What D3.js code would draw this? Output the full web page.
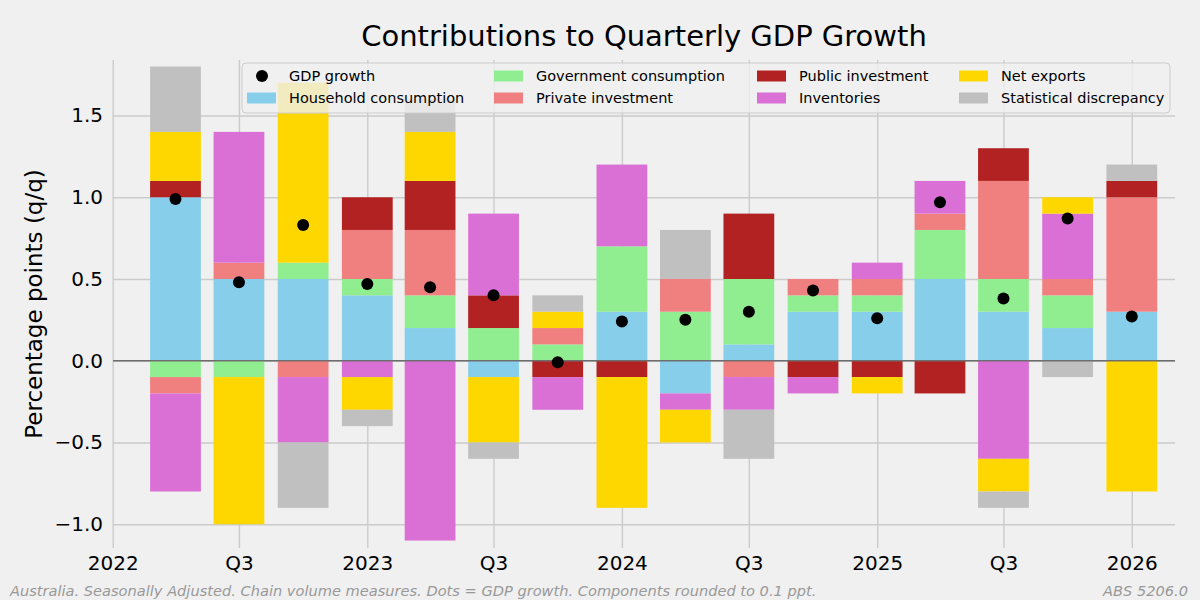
<!DOCTYPE html>
<html lang="en">
  <head>
    <meta charset="utf-8" />
    <title>Contributions to Quarterly GDP Growth</title>
    <script src="https://d3js.org/d3.v7.min.js"></script>
    <style>
      body { margin: 0; background: #f0f0f0; }
      svg { display: block; font-family: "DejaVu Sans", sans-serif; }
    </style>
  </head>
  <body>
    <svg width="1200" height="600"></svg>
  </body>
  <script>
    // Quarters (plotted at the start of each quarter)
    const quarters = ['2022-04-01', '2022-07-01', '2022-10-01', '2023-01-01',
                      '2023-04-01', '2023-07-01', '2023-10-01', '2024-01-01',
                      '2024-04-01', '2024-07-01', '2024-10-01', '2025-01-01',
                      '2025-04-01', '2025-07-01', '2025-10-01', '2026-01-01'];

    // Contributions, percentage points
    const household   = [1.0, 0.5, 0.5, 0.4, 0.2, -0.1, 0.0, 0.3, -0.2, 0.1, 0.3, 0.3, 0.5, 0.3, 0.2, 0.3];
    const government  = [-0.1, -0.1, 0.1, 0.1, 0.2, 0.2, 0.1, 0.4, 0.3, 0.4, 0.1, 0.1, 0.3, 0.2, 0.2, 0.0];
    const privateInv  = [-0.1, 0.1, -0.1, 0.3, 0.4, 0.0, 0.1, 0.0, 0.2, -0.1, 0.1, 0.1, 0.1, 0.6, 0.1, 0.7];
    const publicInv   = [0.1, 0.0, 0.0, 0.2, 0.3, 0.2, -0.1, -0.1, 0.0, 0.4, -0.1, -0.1, -0.2, 0.2, 0.0, 0.1];
    const inventories = [-0.6, 0.8, -0.4, -0.1, -1.1, 0.5, -0.2, 0.5, -0.1, -0.2, -0.1, 0.1, 0.2, -0.6, 0.4, 0.0];
    const netExports  = [0.3, -0.9, 1.1, -0.2, 0.3, -0.4, 0.1, -0.8, -0.2, 0.0, 0.0, -0.1, 0.0, -0.2, 0.1, -0.8];
    const statDisc    = [0.4, 0.0, -0.4, -0.1, 0.2, -0.1, 0.1, 0.0, 0.3, -0.3, 0.0, 0.0, 0.0, -0.1, -0.1, 0.1];
    const gdpGrowth   = [0.99, 0.48, 0.83, 0.47, 0.45, 0.40, -0.01, 0.24, 0.25, 0.30, 0.43, 0.26, 0.97, 0.38, 0.87, 0.27];

    const seriesNames = ['Household consumption', 'Government consumption', 'Private investment',
                         'Public investment', 'Inventories', 'Net exports', 'Statistical discrepancy'];
    const seriesValues = [household, government, privateInv, publicInv, inventories, netExports, statDisc];
    const seriesColors = ['#87ceeb', '#90ee90', '#f08080', '#b22222', '#da70d6', '#ffd700', '#c0c0c0'];

    const yTicks = [-1.0, -0.5, 0.0, 0.5, 1.0, 1.5];

    const parse = d3.utcParse('%Y-%m-%d');
    const dates = quarters.map(parse);

    // Table for d3.stack
    const table = dates.map((d, i) => {
      const row = { date: d };
      seriesNames.forEach((name, k) => { row[name] = seriesValues[k][i]; });
      return row;
    });

    const svg = d3.select('svg');
    svg.append('rect').attr('width', 1200).attr('height', 600).attr('fill', '#f0f0f0');

    // Plot area
    const plotLeft = 113, plotRight = 1175, plotTop = 60, plotBottom = 548;

    const xScale = d3.scaleUtc()
          .domain([parse('2022-01-01'), parse('2026-01-01')])
          .range([112.7, 1131.8]);
    const yScale = d3.scaleLinear()
          .domain([-1.1456, 1.8397])
          .range([plotBottom, plotTop]);

    const xTicks = d3.utcMonth.every(6).range(parse('2022-01-01'), parse('2026-01-02'));

    // Horizontal grid + y labels
    const yAxis = svg.append('g')
          .attr('transform', `translate(${plotLeft}, 0)`)
          .call(d3.axisLeft(yScale)
                .tickValues(yTicks)
                .tickSize(-(plotRight - plotLeft))
                .tickPadding(10)
                .tickFormat(d3.format('.1f')));
    yAxis.select('.domain').remove();
    yAxis.selectAll('line').attr('stroke', '#cbcbcb').attr('stroke-width', 1.4);
    yAxis.selectAll('text').attr('font-size', 20).attr('fill', '#000')
         .attr('font-family', 'DejaVu Sans');

    // Vertical grid + x labels
    const xAxis = svg.append('g')
          .attr('transform', `translate(0, ${plotBottom})`)
          .call(d3.axisBottom(xScale)
                .tickValues(xTicks)
                .tickSize(-(plotBottom - plotTop))
                .tickPadding(8)
                .tickFormat(d => d.getUTCMonth() === 0 ? d.getUTCFullYear() : 'Q3'));
    xAxis.select('.domain').remove();
    xAxis.selectAll('line').attr('stroke', '#cbcbcb').attr('stroke-width', 1.4);
    xAxis.selectAll('text').attr('font-size', 20).attr('fill', '#000')
         .attr('font-family', 'DejaVu Sans');

    // Stacked bars
    const stack = d3.stack()
          .keys(seriesNames)
          .offset(d3.stackOffsetDiverging);
    const layers = stack(table);

    const barWidth = 0.8 * (xScale(dates[1]) - xScale(dates[0]));

    svg.append('g')
      .selectAll('g')
      .data(layers)
      .join('g')
        .attr('fill', (d, i) => seriesColors[i])
      .selectAll('rect')
      .data(d => d)
      .join('rect')
        .attr('x', d => xScale(d.data.date) - barWidth / 2)
        .attr('width', barWidth)
        .attr('y', d => yScale(Math.max(d[0], d[1])))
        .attr('height', d => Math.abs(yScale(d[0]) - yScale(d[1])));

    // Zero line
    svg.append('line')
      .attr('x1', plotLeft).attr('x2', plotRight)
      .attr('y1', yScale(0)).attr('y2', yScale(0))
      .attr('stroke', '#6e6e6e').attr('stroke-width', 1.3);

    // GDP growth dots
    svg.append('g')
      .selectAll('circle')
      .data(gdpGrowth)
      .join('circle')
        .attr('cx', (d, i) => xScale(dates[i]))
        .attr('cy', d => yScale(d))
        .attr('r', 6)
        .attr('fill', '#000');

    // Legend
    const legend = svg.append('g');
    legend.append('rect')
      .attr('x', 242).attr('y', 63)
      .attr('width', 928).attr('height', 50)
      .attr('rx', 4)
      .attr('fill', '#f0f0f0').attr('fill-opacity', 0.8)
      .attr('stroke', '#cccccc').attr('stroke-width', 1);

    const legendItems = [{ name: 'GDP growth', dot: true }]
          .concat(seriesNames.map((name, i) => ({ name: name, color: seriesColors[i] })));
    const colX = [247, 494, 757, 959];
    const rowY = [76, 98];

    legendItems.forEach((item, i) => {
      const cx = colX[Math.floor(i / 2)];
      const cy = rowY[i % 2];
      if (item.dot) {
        legend.append('circle').attr('cx', cx + 15).attr('cy', cy).attr('r', 6).attr('fill', '#000');
      } else {
        legend.append('rect').attr('x', cx).attr('y', cy - 5.5)
          .attr('width', 29).attr('height', 11).attr('fill', item.color);
      }
      legend.append('text')
        .attr('x', cx + 42).attr('y', cy + 5)
        .attr('font-size', 14.5)
        .attr('fill', '#000')
        .text(item.name);
    });

    // Title
    svg.append('text')
      .attr('x', 644).attr('y', 46)
      .attr('text-anchor', 'middle')
      .attr('font-size', 29)
      .attr('fill', '#000')
      .text('Contributions to Quarterly GDP Growth');

    // Y axis label
    svg.append('text')
      .attr('transform', `translate(42, ${(plotTop + plotBottom) / 2}) rotate(-90)`)
      .attr('text-anchor', 'middle')
      .attr('font-size', 23)
      .attr('fill', '#000')
      .text('Percentage points (q/q)');

    // Footer notes
    svg.append('text')
      .attr('x', 10).attr('y', 596)
      .attr('font-size', 14.6)
      .attr('font-style', 'italic')
      .attr('fill', '#999999')
      .text('Australia. Seasonally Adjusted. Chain volume measures. Dots = GDP growth. Components rounded to 0.1 ppt.');
    svg.append('text')
      .attr('x', 1188).attr('y', 596)
      .attr('text-anchor', 'end')
      .attr('font-size', 14.6)
      .attr('font-style', 'italic')
      .attr('fill', '#999999')
      .text('ABS 5206.0');
  </script>
</html>
